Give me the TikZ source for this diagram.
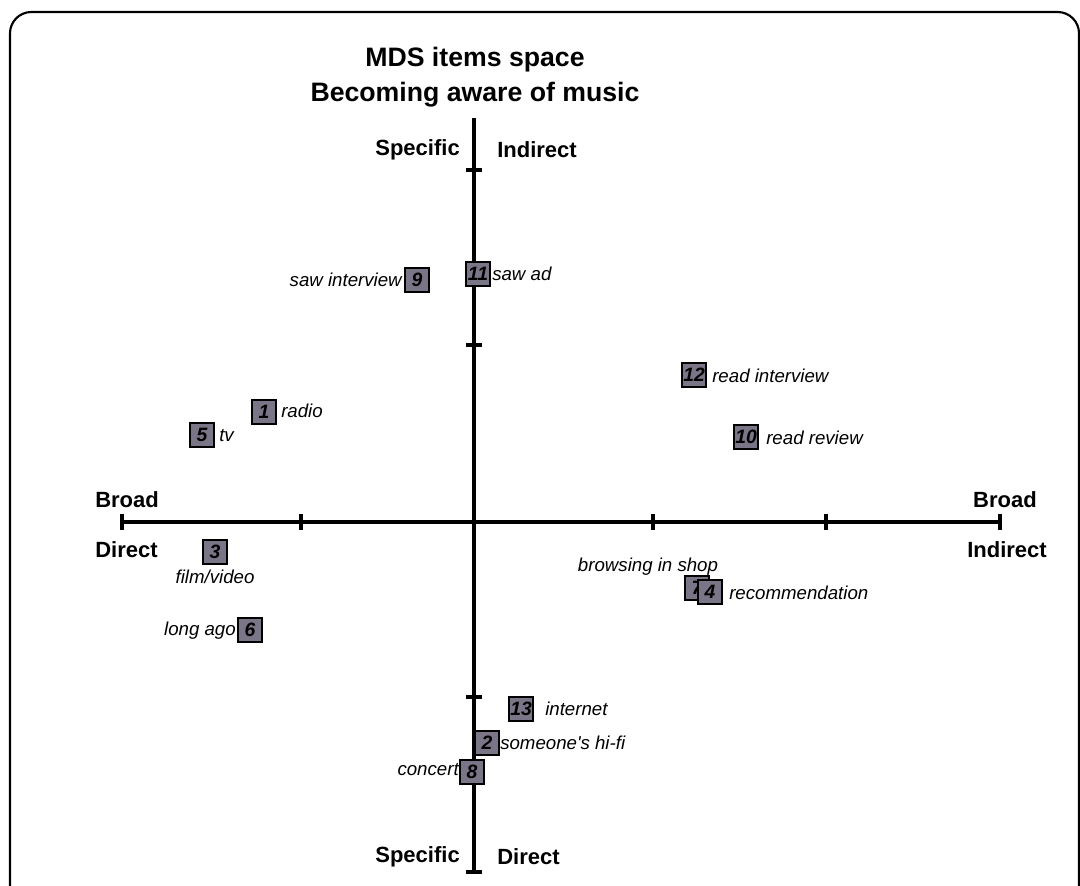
\documentclass[tikz,border=0pt]{standalone}
\usepackage{fontspec}
\setmainfont{Liberation Sans}
\newfontfamily\plainfont{Liberation Sans}
\definecolor{boxgray}{RGB}{122,117,135}
\tikzset{
  itembox/.style={draw=black, line width=1.4pt, fill=boxgray, minimum width=17.5pt, minimum height=17.5pt, inner sep=0pt, font=\fontsize{14.5}{14.5}\selectfont\bfseries\itshape},
  lbl/.style={inner sep=0pt, font=\fontsize{14}{14}\selectfont\itshape},
  axlbl/.style={inner sep=0pt, font=\fontsize{16.5}{16.5}\selectfont\bfseries},
  axis/.style={line width=2.3pt},
  tick/.style={line width=2.3pt},
}
\begin{document}
\begin{tikzpicture}[x=0.75pt,y=-0.75pt]
\clip (0,0) rectangle (1080,885);
% frame
\draw[line width=1.6pt, rounded corners=16pt] (10,12) rectangle (1079,908);
% title
\node[inner sep=0pt, align=center, font=\fontsize{20}{26}\selectfont\bfseries] (title) at (475,77) {MDS items space\\Becoming aware of music};
% axes
\coordinate (hl) at (122,522);
\coordinate (hr) at (1000,522);
\coordinate (vt) at (474,118);
\coordinate (vb) at (474,872);
\draw[axis] (hl) -- (hr);
\draw[axis] (vt) -- (vb);
% horizontal ticks
\foreach \x in {122,301,653,826,1000}{
  \draw[tick] (\x,514) -- (\x,530);
}
% vertical ticks
\foreach \y in {170,345,697}{
  \draw[tick] (466,\y) -- (482,\y);
}
\draw[tick] (466,872) -- (482,872);
% axis labels
\node[axlbl, anchor=east] (spT) at (460,150) {Specific};
\node[axlbl, anchor=west] (inT) at (497,150) {Indirect};
\node[axlbl, anchor=east] (spB) at (460,857) {Specific};
\node[axlbl, anchor=west] (diB) at (497,857) {Direct};
\node[axlbl, anchor=west] (brL) at (95,500) {Broad};
\node[axlbl, anchor=west] (diL) at (95,550) {Direct};
\node[axlbl, anchor=east] (brR) at (1037,500) {Broad};
\node[axlbl, anchor=east] (inR) at (1047,550) {Indirect};
% items
\node[itembox] (b9) at (417,280) {9};
\node[itembox] (b11) at (478,274) {11};
\node[itembox] (b12) at (694,375) {12};
\node[itembox] (b1) at (264,412) {1};
\node[itembox] (b5) at (202,435) {5};
\node[itembox] (b10) at (746,437) {10};
\node[itembox] (b3) at (215,552) {3};
\node[itembox] (b7) at (697,588) {7};
\node[itembox] (b4) at (710,592) {4};
\node[itembox] (b6) at (250,630) {6};
\node[itembox] (b13) at (521,709) {13};
\node[itembox] (b2) at (487,743) {2};
\node[itembox] (b8) at (472,772) {8};
% labels
\node[lbl, anchor=east] (l9) at (402,280) {saw interview};
\node[lbl, anchor=west] (l11) at (492,274) {saw ad};
\node[lbl, anchor=west] (l12) at (712,376) {read interview};
\node[lbl, anchor=west] (l1) at (281,411) {radio};
\node[lbl, anchor=west] (l5) at (219,436) {tv};
\node[lbl, anchor=west] (l10) at (766,438) {read review};
\node[lbl] (l3) at (215,577) {film/video};
\node[lbl] (l7) at (648,567) {browsing in shop};
\node[lbl, anchor=west] (l4) at (729,593) {recommendation};
\node[lbl, anchor=east] (l6) at (236,631) {long ago};
\node[lbl, anchor=west] (l13) at (545,709) {internet};
\node[lbl, anchor=west, font=\fontsize{14}{14}\selectfont\plainfont\itshape] (l2) at (500,743) {someone's hi-fi};
\node[lbl, anchor=east] (l8) at (459,770) {concert};
\end{tikzpicture}
\end{document}
